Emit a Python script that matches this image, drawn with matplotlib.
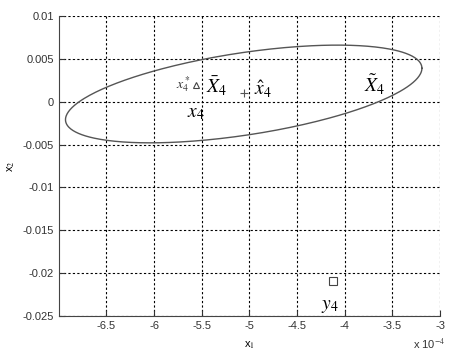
import numpy as np
import matplotlib
matplotlib.use('Agg')
import matplotlib.pyplot as plt
from matplotlib.ticker import FuncFormatter

plt.rcParams['axes.unicode_minus'] = False
plt.rcParams['mathtext.fontset'] = 'stix'

# error ellipse: centre, half extents along x1 / x2, correlation
ell_center = (-5.06e-4, 0.0009)
ell_half = (1.87e-4, 0.0057)
ell_rho = 0.526

# points
x_star = (-5.56e-4, 0.0020)   # x*_4 (triangle)
x_hat = (-5.06e-4, 0.0010)    # hat x_4 (+)
y_meas = (-4.125e-4, -0.0209) # y_4 (square)

xticks = [-6.5e-4, -6e-4, -5.5e-4, -5e-4, -4.5e-4, -4e-4, -3.5e-4, -3e-4]
yticks = [0.01, 0.005, 0, -0.005, -0.01, -0.015, -0.02, -0.025]
ytick_labels = ['0.01', '0.005', '0', '-0.005', '-0.01', '-0.015', '-0.02', '-0.025']

fig = plt.figure(figsize=(4.49, 3.63), dpi=100)
ax = fig.add_axes([0.131, 0.1295, 0.849, 0.8265])

t = np.linspace(0, 2 * np.pi, 400)
ex = ell_center[0] + ell_half[0] * np.cos(t)
ey = ell_center[1] + ell_half[1] * (ell_rho * np.cos(t) + np.sqrt(1 - ell_rho**2) * np.sin(t))
ax.plot(ex, ey, color='#555555', lw=1.0)

ax.plot(*x_star, marker='^', ms=5, mfc='none', mec='#444444', mew=0.8)
ax.plot(*x_hat, marker='+', ms=6, color='#555555', mew=0.8)
ax.plot(*y_meas, marker='s', ms=6, mfc='none', mec='#444444', mew=0.8)

ax.set_xlim(-7e-4, -3e-4)
ax.set_ylim(-0.025, 0.01)
ax.set_xticks(xticks)
ax.xaxis.set_major_formatter(FuncFormatter(lambda v, p: f'{v * 1e4:g}'))
ax.set_yticks(yticks, labels=ytick_labels)
ax.tick_params(direction='in', length=4, labelsize=8, colors='#333333', width=0.8)
for lab in ax.get_xticklabels() + ax.get_yticklabels():
    lab.set_fontfamily('Liberation Sans')
ax.grid(True, color='black', linestyle=(0, (2, 2)), linewidth=0.8)
ax.spines['top'].set_visible(False)
ax.spines['right'].set_visible(False)
ax.spines['left'].set_color('#444444')
ax.spines['bottom'].set_color('#444444')

ax.set_xlabel('x$_1$', fontsize=8, family='Liberation Sans', labelpad=6)
ax.set_ylabel('x$_2$', fontsize=8, family='Liberation Sans', labelpad=4)
ax.text(0.93, -0.11, r'x 10$^{-4}$', transform=ax.transAxes, fontsize=8,
        family='Liberation Sans', color='#333333')

fs = 14
ax.text(-5.77e-4, 0.0021, r'$x_4^*$', fontsize=10, color='#333333', ha='left', va='center')
ax.text(-5.46e-4, 0.0018, r'$\bar{X}_4$', fontsize=fs, ha='left', va='center')
ax.text(-4.95e-4, 0.0015, r'$\hat{x}_4$', fontsize=fs, ha='left', va='center')
ax.text(-3.80e-4, 0.0020, r'$\tilde{X}_4$', fontsize=fs, ha='left', va='center')
ax.text(-5.65e-4, -0.0013, r'$x_4$', fontsize=fs, ha='left', va='center')
ax.text(-4.25e-4, -0.0238, r'$y_4$', fontsize=fs, ha='left', va='center')

fig.savefig('out.png', dpi=100)
